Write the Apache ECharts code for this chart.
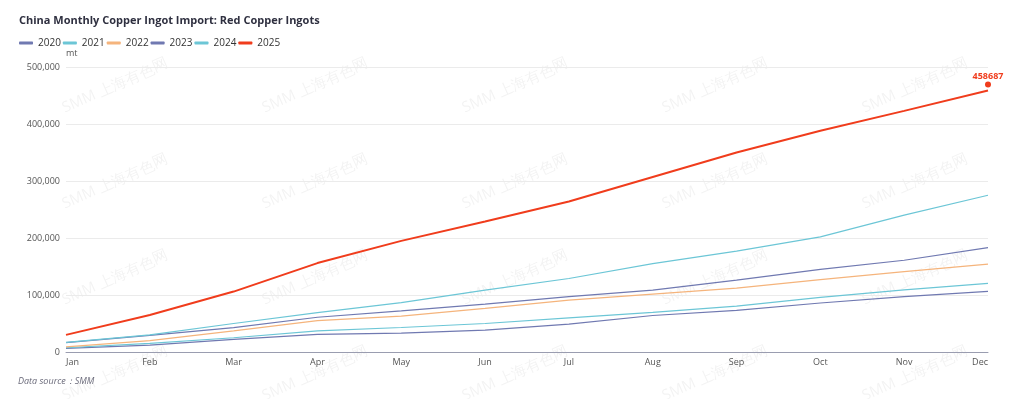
<!DOCTYPE html>
<html>
<head>
<meta charset="utf-8">
<script src="https://cdn.jsdelivr.net/npm/echarts@6/dist/echarts.min.js"></script>
<style>html,body{margin:0;padding:0;background:#fff}#c{width:1024px;height:399px}</style>
</head>
<body>
<div id="c"></div>
<script>
const months = ['Jan','Feb','Mar','Apr','May','Jun','Jul','Aug','Sep','Oct','Nov','Dec'];
const years = ['2020','2021','2022','2023','2024','2025'];
const y2020 = [6500, 12000, 22000, 31000, 33000, 38500, 49000, 64000, 73000, 86000, 97000, 106500];
const y2021 = [7500, 15000, 25000, 37000, 43000, 50000, 60000, 69500, 80500, 96000, 109000, 120500];
const y2022 = [9000, 20000, 37000, 55000, 63000, 76500, 91000, 101500, 112000, 127000, 141000, 154000];
const y2023 = [16400, 29000, 42700, 61000, 72000, 84000, 97000, 108500, 126000, 145000, 161000, 183000];
const y2024 = [17000, 30000, 50000, 69000, 86500, 108500, 129000, 155000, 177000, 202000, 240000, 275000];
const y2025 = [30000, 65000, 106000, 156000, 195000, 229000, 264000, 307000, 350000, 388000, 423000, 458687];
const yTicks = [0, 100000, 200000, 300000, 400000, 500000];
const colors = ['#7079b1', '#6cc6d6', '#f5b47c', '#7079b1', '#6cc6d6', '#f03c1c'];
const seriesData = [y2020, y2021, y2022, y2023, y2024, y2025];

const font = '"Open Sans","Noto Sans",sans-serif';
const chart = echarts.init(document.getElementById('c'), null, {renderer: 'canvas'});

const wm = [];
for (let r = 0; r < 4; r++) {
  for (let c = 0; c < 5; c++) {
    wm.push({
      type: 'text', x: 60 + c * 200, y: 102 + r * 96, rotation: Math.PI / 7.5, silent: true, z: 0,
      style: {text: 'SMM 上海有色网', fill: 'rgba(0,0,0,0.05)', font: '15px ' + font}
    });
  }
}

const series = years.map((y, i) => {
  const s = {
    name: y, type: 'line', smooth: false, showSymbol: false, symbol: 'none',
    data: seriesData[i],
    lineStyle: {width: i === 5 ? 2 : 1.2, color: colors[i]},
    itemStyle: {color: colors[i]},
    z: 2 + i
  };
  if (i === 5) {
    s.markPoint = {
      symbol: 'circle', symbolSize: 6, symbolOffset: [0, -6],
      itemStyle: {color: colors[5]},
      label: {show: true, position: 'top', distance: 1, color: colors[5], fontSize: 9, fontWeight: 'bold', fontFamily: font, formatter: p => p.value},
      data: [{coord: [11, y2025[11]], value: y2025[11]}]
    };
  }
  return s;
});

chart.setOption({
  animation: false,
  color: colors,
  textStyle: {fontFamily: font},
  title: {
    text: 'China Monthly Copper Ingot Import: Red Copper Ingots',
    left: 14, top: 10,
    textStyle: {fontSize: 11, fontWeight: 'bold', color: '#2f3040', fontFamily: font}
  },
  legend: {
    data: years, left: 14, top: 33, icon: 'roundRect', itemWidth: 14, itemHeight: 3, itemGap: 2,
    textStyle: {fontSize: 10, color: '#333', fontFamily: font}
  },
  graphic: wm.concat([{
    type: 'text', left: 18, top: 377,
    style: {text: 'Data source：SMM', fill: '#6a6a7a', font: 'italic 9px ' + font}
  }]),
  grid: {left: 66, right: 36, top: 67, bottom: 47, containLabel: false},
  xAxis: {
    type: 'category', data: months, boundaryGap: false,
    axisLine: {lineStyle: {color: '#9a9db0'}},
    axisTick: {show: false},
    axisLabel: {color: '#555', fontSize: 9, margin: 6, alignMinLabel: 'left', alignMaxLabel: 'right', fontFamily: font}
  },
  yAxis: {
    type: 'value', min: yTicks[0], max: yTicks[yTicks.length - 1], interval: yTicks[1] - yTicks[0],
    name: 'mt', nameGap: 9, nameTextStyle: {color: '#555', fontSize: 9, align: 'left', padding: [0, 0, 0, 0]},
    axisLabel: {color: '#555', fontSize: 9, margin: 6, formatter: v => v.toLocaleString('en-US'), fontFamily: font},
    splitLine: {lineStyle: {color: '#ebebeb'}},
    axisLine: {show: false}, axisTick: {show: false}
  },
  series: series
});
</script>
</body>
</html>
